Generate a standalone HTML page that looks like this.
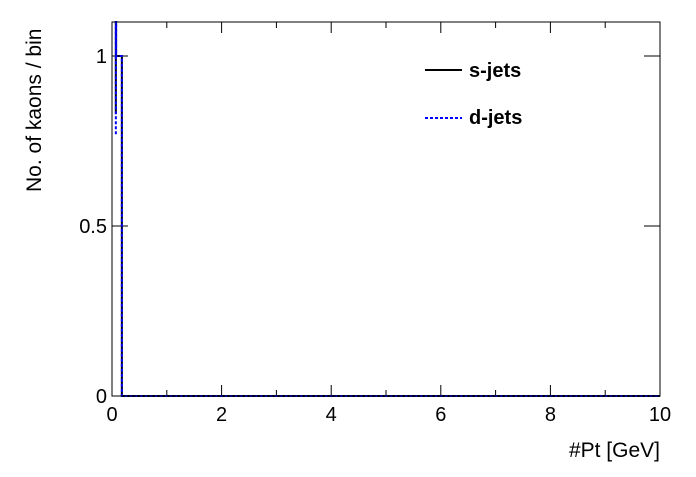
<!DOCTYPE html>
<html><head><meta charset="utf-8"><style>
body{margin:0;background:#fff}
svg text{font-family:"Liberation Sans",sans-serif}
</style></head><body>
<svg width="696" height="472" viewBox="0 0 696 472">
<rect width="696" height="472" fill="#fff"/>
<g id="axes"></g>
<g id="series"></g>
<rect x="112" y="22" width="548" height="374" fill="none" stroke="#000" stroke-width="1"/>
<g>
<line x1="425" y1="70" x2="462" y2="70" stroke="#000" stroke-width="2"/>
<text x="469" y="77" font-size="20" font-weight="bold">s-jets</text>
<line x1="425" y1="118" x2="462" y2="118" stroke="#00f" stroke-width="2" stroke-dasharray="3,2"/>
<text x="469" y="124" font-size="20" font-weight="bold">d-jets</text>
</g>
<text x="660" y="457" font-size="21" text-anchor="end">#Pt [GeV]</text>
<text transform="translate(41,192) rotate(-90)" font-size="21" text-anchor="start">No. of kaons / bin</text>
</svg>
<script>
const binEdges=[0.07,0.075,0.18,10];
const sValues=[1.5,1.0,0];
const dValues=[1.5,1.0,0];
const sStart=0.83;
const dStart=0.77;
const xTicks=[0,2,4,6,8,10];
const yTicks=[0,0.5,1];
const NS='http://www.w3.org/2000/svg';
const X0=112,X1=660,Y0=396,YT=22,XMAX=10,YMAX=1.1;
const xs=v=>X0+(v/XMAX)*(X1-X0);
const ys=v=>Math.max(YT,Y0-(v/YMAX)*(Y0-YT));
const axes=document.getElementById('axes');
function mk(tag,attrs,parent){const e=document.createElementNS(NS,tag);for(const k in attrs)e.setAttribute(k,attrs[k]);parent.appendChild(e);return e;}
for(let i=0;i<=10;i++){const v=i;const x=xs(v);const big=i%2===0;
const l=mk('line',{x1:x,x2:x,y1:Y0,y2:Y0-(big?11:6),stroke:'#000'},axes);


const l2=mk('line',{x1:x,x2:x,y1:YT,y2:YT+(big?11:6),stroke:'#000'},axes);

}
xTicks.forEach(v=>{const t=mk('text',{x:xs(v),y:Y0+25,'font-size':20,'text-anchor':'middle'},axes);t.textContent=String(v);

});
yTicks.forEach(v=>{const y=ys(v);
const l=mk('line',{x1:X0,x2:X0+16,y1:y,y2:y,stroke:'#000'},axes);


const l2=mk('line',{x1:X1,x2:X1-16,y1:y,y2:y,stroke:'#000'},axes);


const t=mk('text',{x:X0-5,y:y+7,'font-size':20,'text-anchor':'end'},axes);t.textContent=String(v);

});
function stepPath(vals,start){let d='M'+xs(binEdges[0])+','+ys(start)+' L'+xs(binEdges[0])+','+ys(vals[0]);
for(let i=0;i<vals.length;i++){d+=' L'+xs(binEdges[i+1])+','+ys(vals[i]);if(i+1<vals.length)d+=' L'+xs(binEdges[i+1])+','+ys(vals[i+1]);}
return d;}
const ser=document.getElementById('series');
const ps=mk('path',{d:stepPath(sValues,sStart),fill:'none',stroke:'#000','stroke-width':2},ser);


const pd=mk('path',{d:stepPath(dValues,dStart),fill:'none',stroke:'#00f','stroke-width':2,'stroke-dasharray':'3,2'},ser);


</script>
</body></html>
